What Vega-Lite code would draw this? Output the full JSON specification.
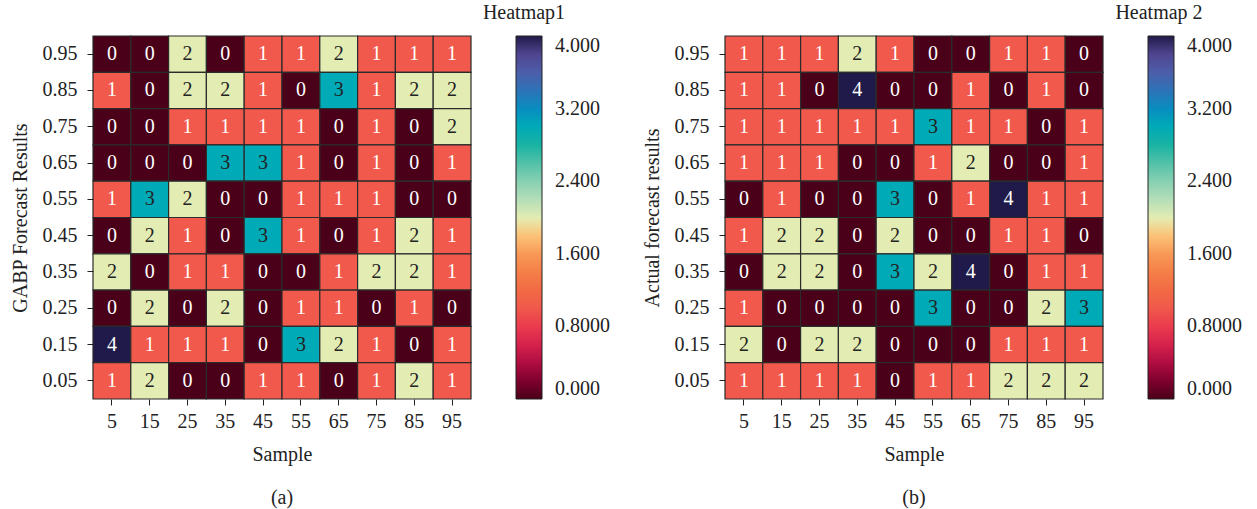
{
  "$schema": "https://vega.github.io/schema/vega-lite/v6.json",
  "padding": {"left": 10, "top": 3, "right": 5, "bottom": 5},
  "background": "white",
  "datasets": {
    "a": [
      {"s":5,"r":"0.95","v":0},{"s":15,"r":"0.95","v":0},{"s":25,"r":"0.95","v":2},{"s":35,"r":"0.95","v":0},{"s":45,"r":"0.95","v":1},{"s":55,"r":"0.95","v":1},{"s":65,"r":"0.95","v":2},{"s":75,"r":"0.95","v":1},{"s":85,"r":"0.95","v":1},{"s":95,"r":"0.95","v":1},
      {"s":5,"r":"0.85","v":1},{"s":15,"r":"0.85","v":0},{"s":25,"r":"0.85","v":2},{"s":35,"r":"0.85","v":2},{"s":45,"r":"0.85","v":1},{"s":55,"r":"0.85","v":0},{"s":65,"r":"0.85","v":3},{"s":75,"r":"0.85","v":1},{"s":85,"r":"0.85","v":2},{"s":95,"r":"0.85","v":2},
      {"s":5,"r":"0.75","v":0},{"s":15,"r":"0.75","v":0},{"s":25,"r":"0.75","v":1},{"s":35,"r":"0.75","v":1},{"s":45,"r":"0.75","v":1},{"s":55,"r":"0.75","v":1},{"s":65,"r":"0.75","v":0},{"s":75,"r":"0.75","v":1},{"s":85,"r":"0.75","v":0},{"s":95,"r":"0.75","v":2},
      {"s":5,"r":"0.65","v":0},{"s":15,"r":"0.65","v":0},{"s":25,"r":"0.65","v":0},{"s":35,"r":"0.65","v":3},{"s":45,"r":"0.65","v":3},{"s":55,"r":"0.65","v":1},{"s":65,"r":"0.65","v":0},{"s":75,"r":"0.65","v":1},{"s":85,"r":"0.65","v":0},{"s":95,"r":"0.65","v":1},
      {"s":5,"r":"0.55","v":1},{"s":15,"r":"0.55","v":3},{"s":25,"r":"0.55","v":2},{"s":35,"r":"0.55","v":0},{"s":45,"r":"0.55","v":0},{"s":55,"r":"0.55","v":1},{"s":65,"r":"0.55","v":1},{"s":75,"r":"0.55","v":1},{"s":85,"r":"0.55","v":0},{"s":95,"r":"0.55","v":0},
      {"s":5,"r":"0.45","v":0},{"s":15,"r":"0.45","v":2},{"s":25,"r":"0.45","v":1},{"s":35,"r":"0.45","v":0},{"s":45,"r":"0.45","v":3},{"s":55,"r":"0.45","v":1},{"s":65,"r":"0.45","v":0},{"s":75,"r":"0.45","v":1},{"s":85,"r":"0.45","v":2},{"s":95,"r":"0.45","v":1},
      {"s":5,"r":"0.35","v":2},{"s":15,"r":"0.35","v":0},{"s":25,"r":"0.35","v":1},{"s":35,"r":"0.35","v":1},{"s":45,"r":"0.35","v":0},{"s":55,"r":"0.35","v":0},{"s":65,"r":"0.35","v":1},{"s":75,"r":"0.35","v":2},{"s":85,"r":"0.35","v":2},{"s":95,"r":"0.35","v":1},
      {"s":5,"r":"0.25","v":0},{"s":15,"r":"0.25","v":2},{"s":25,"r":"0.25","v":0},{"s":35,"r":"0.25","v":2},{"s":45,"r":"0.25","v":0},{"s":55,"r":"0.25","v":1},{"s":65,"r":"0.25","v":1},{"s":75,"r":"0.25","v":0},{"s":85,"r":"0.25","v":1},{"s":95,"r":"0.25","v":0},
      {"s":5,"r":"0.15","v":4},{"s":15,"r":"0.15","v":1},{"s":25,"r":"0.15","v":1},{"s":35,"r":"0.15","v":1},{"s":45,"r":"0.15","v":0},{"s":55,"r":"0.15","v":3},{"s":65,"r":"0.15","v":2},{"s":75,"r":"0.15","v":1},{"s":85,"r":"0.15","v":0},{"s":95,"r":"0.15","v":1},
      {"s":5,"r":"0.05","v":1},{"s":15,"r":"0.05","v":2},{"s":25,"r":"0.05","v":0},{"s":35,"r":"0.05","v":0},{"s":45,"r":"0.05","v":1},{"s":55,"r":"0.05","v":1},{"s":65,"r":"0.05","v":0},{"s":75,"r":"0.05","v":1},{"s":85,"r":"0.05","v":2},{"s":95,"r":"0.05","v":1}
    ],
    "b": [
      {"s":5,"r":"0.95","v":1},{"s":15,"r":"0.95","v":1},{"s":25,"r":"0.95","v":1},{"s":35,"r":"0.95","v":2},{"s":45,"r":"0.95","v":1},{"s":55,"r":"0.95","v":0},{"s":65,"r":"0.95","v":0},{"s":75,"r":"0.95","v":1},{"s":85,"r":"0.95","v":1},{"s":95,"r":"0.95","v":0},
      {"s":5,"r":"0.85","v":1},{"s":15,"r":"0.85","v":1},{"s":25,"r":"0.85","v":0},{"s":35,"r":"0.85","v":4},{"s":45,"r":"0.85","v":0},{"s":55,"r":"0.85","v":0},{"s":65,"r":"0.85","v":1},{"s":75,"r":"0.85","v":0},{"s":85,"r":"0.85","v":1},{"s":95,"r":"0.85","v":0},
      {"s":5,"r":"0.75","v":1},{"s":15,"r":"0.75","v":1},{"s":25,"r":"0.75","v":1},{"s":35,"r":"0.75","v":1},{"s":45,"r":"0.75","v":1},{"s":55,"r":"0.75","v":3},{"s":65,"r":"0.75","v":1},{"s":75,"r":"0.75","v":1},{"s":85,"r":"0.75","v":0},{"s":95,"r":"0.75","v":1},
      {"s":5,"r":"0.65","v":1},{"s":15,"r":"0.65","v":1},{"s":25,"r":"0.65","v":1},{"s":35,"r":"0.65","v":0},{"s":45,"r":"0.65","v":0},{"s":55,"r":"0.65","v":1},{"s":65,"r":"0.65","v":2},{"s":75,"r":"0.65","v":0},{"s":85,"r":"0.65","v":0},{"s":95,"r":"0.65","v":1},
      {"s":5,"r":"0.55","v":0},{"s":15,"r":"0.55","v":1},{"s":25,"r":"0.55","v":0},{"s":35,"r":"0.55","v":0},{"s":45,"r":"0.55","v":3},{"s":55,"r":"0.55","v":0},{"s":65,"r":"0.55","v":1},{"s":75,"r":"0.55","v":4},{"s":85,"r":"0.55","v":1},{"s":95,"r":"0.55","v":1},
      {"s":5,"r":"0.45","v":1},{"s":15,"r":"0.45","v":2},{"s":25,"r":"0.45","v":2},{"s":35,"r":"0.45","v":0},{"s":45,"r":"0.45","v":2},{"s":55,"r":"0.45","v":0},{"s":65,"r":"0.45","v":0},{"s":75,"r":"0.45","v":1},{"s":85,"r":"0.45","v":1},{"s":95,"r":"0.45","v":0},
      {"s":5,"r":"0.35","v":0},{"s":15,"r":"0.35","v":2},{"s":25,"r":"0.35","v":2},{"s":35,"r":"0.35","v":0},{"s":45,"r":"0.35","v":3},{"s":55,"r":"0.35","v":2},{"s":65,"r":"0.35","v":4},{"s":75,"r":"0.35","v":0},{"s":85,"r":"0.35","v":1},{"s":95,"r":"0.35","v":1},
      {"s":5,"r":"0.25","v":1},{"s":15,"r":"0.25","v":0},{"s":25,"r":"0.25","v":0},{"s":35,"r":"0.25","v":0},{"s":45,"r":"0.25","v":0},{"s":55,"r":"0.25","v":3},{"s":65,"r":"0.25","v":0},{"s":75,"r":"0.25","v":0},{"s":85,"r":"0.25","v":2},{"s":95,"r":"0.25","v":3},
      {"s":5,"r":"0.15","v":2},{"s":15,"r":"0.15","v":0},{"s":25,"r":"0.15","v":2},{"s":35,"r":"0.15","v":2},{"s":45,"r":"0.15","v":0},{"s":55,"r":"0.15","v":0},{"s":65,"r":"0.15","v":0},{"s":75,"r":"0.15","v":1},{"s":85,"r":"0.15","v":1},{"s":95,"r":"0.15","v":1},
      {"s":5,"r":"0.05","v":1},{"s":15,"r":"0.05","v":1},{"s":25,"r":"0.05","v":1},{"s":35,"r":"0.05","v":1},{"s":45,"r":"0.05","v":0},{"s":55,"r":"0.05","v":1},{"s":65,"r":"0.05","v":1},{"s":75,"r":"0.05","v":2},{"s":85,"r":"0.05","v":2},{"s":95,"r":"0.05","v":2}
    ]
  },
  "hconcat": [
    {
      "data": {"name": "a"},
      "width": 378,
      "height": 363,
      "title": {"text": "(a)", "orient": "bottom", "anchor": "middle", "offset": 24},
      "encoding": {
        "x": {"field": "s", "type": "ordinal", "sort": "ascending", "title": "Sample"},
        "y": {"field": "r", "type": "ordinal", "sort": "descending", "title": "GABP Forecast Results"}
      },
      "layer": [
        {
          "mark": {"type": "rect", "stroke": "#2b2b2b", "strokeWidth": 1.2},
          "encoding": {
            "color": {
              "field": "v", "type": "quantitative",
              "scale": {"type": "linear", "interpolate": "rgb",
                "domain": [0, 0.25, 0.5, 0.75, 1, 1.25, 1.5, 1.75, 1.9, 2, 2.25, 2.5, 2.75, 3, 3.25, 3.5, 3.75, 3.9, 4],
                "range": ["#4a0019", "#8c0033", "#c8164a", "#e8334f", "#f0594b", "#f36e42", "#f68a4c", "#fbb067", "#feea9a", "#e3ecb3", "#a7dbb9", "#72c9ae", "#1fb59e", "#00aab7", "#0a86c2", "#4466af", "#5a50a0", "#392f6e", "#1f1a49"]},
              "legend": {
                "title": "Heatmap1", "orient": "none", "legendX": 390, "legendY": -33,
                "values": [0, 0.8, 1.6, 2.4, 3.2, 4],
                "labelExpr": "datum.value == 0.8 ? '0.8000' : format(datum.value, '.3f')",
                "labelOffset": 13, "labelBaseline": "middle",
                "titleAlign": "center", "titleAnchor": "start",
                "encode": {"title": {"update": {"dx": {"value": 8}}}}
              }
            }
          }
        },
        {
          "mark": {"type": "text", "fontSize": 20, "font": "Liberation Serif"},
          "encoding": {
            "text": {"field": "v", "type": "quantitative"},
            "color": {"condition": {"test": "datum.v == 2 || datum.v == 3", "value": "#222222"}, "value": "#ffffff"}
          }
        }
      ]
    },
    {
      "data": {"name": "b"},
      "width": 378,
      "height": 363,
      "title": {"text": "(b)", "orient": "bottom", "anchor": "middle", "offset": 24},
      "encoding": {
        "x": {"field": "s", "type": "ordinal", "sort": "ascending", "title": "Sample"},
        "y": {"field": "r", "type": "ordinal", "sort": "descending", "title": "Actual forecast results"}
      },
      "layer": [
        {
          "mark": {"type": "rect", "stroke": "#2b2b2b", "strokeWidth": 1.2},
          "encoding": {
            "color": {
              "field": "v", "type": "quantitative",
              "scale": {"type": "linear", "interpolate": "rgb",
                "domain": [0, 0.25, 0.5, 0.75, 1, 1.25, 1.5, 1.75, 1.9, 2, 2.25, 2.5, 2.75, 3, 3.25, 3.5, 3.75, 3.9, 4],
                "range": ["#4a0019", "#8c0033", "#c8164a", "#e8334f", "#f0594b", "#f36e42", "#f68a4c", "#fbb067", "#feea9a", "#e3ecb3", "#a7dbb9", "#72c9ae", "#1fb59e", "#00aab7", "#0a86c2", "#4466af", "#5a50a0", "#392f6e", "#1f1a49"]},
              "legend": {
                "title": "Heatmap 2", "orient": "none", "legendX": 390, "legendY": -33,
                "values": [0, 0.8, 1.6, 2.4, 3.2, 4],
                "labelExpr": "datum.value == 0.8 ? '0.8000' : format(datum.value, '.3f')",
                "labelOffset": 13, "labelBaseline": "middle",
                "titleAlign": "center", "titleAnchor": "start",
                "encode": {"title": {"update": {"dx": {"value": 11}}}}
              }
            }
          }
        },
        {
          "mark": {"type": "text", "fontSize": 20, "font": "Liberation Serif"},
          "encoding": {
            "text": {"field": "v", "type": "quantitative"},
            "color": {"condition": {"test": "datum.v == 2 || datum.v == 3", "value": "#222222"}, "value": "#ffffff"}
          }
        }
      ]
    }
  ],
  "spacing": 32,
  "resolve": {"scale": {"color": "independent"}},
  "config": {
    "font": "Liberation Serif",
    "view": {"stroke": null},
    "axis": {
      "labelFont": "Liberation Serif", "labelFontSize": 20, "labelColor": "#222222",
      "titleFont": "Liberation Serif", "titleFontSize": 20, "titleFontWeight": "normal", "titleColor": "#222222",
      "tickColor": "#222222", "tickSize": 6, "domain": false, "grid": false
    },
    "axisX": {"labelAngle": 0, "labelPadding": 6, "titlePadding": 13},
    "axisY": {"labelPadding": 10, "titlePadding": 12},
    "legend": {
      "gradientLength": 363, "gradientThickness": 26,
      "gradientStrokeColor": "#222222", "gradientStrokeWidth": 1,
      "labelFont": "Liberation Serif", "labelFontSize": 20, "labelColor": "#222222",
      "titleFont": "Liberation Serif", "titleFontSize": 20, "titleFontWeight": "normal", "titleColor": "#222222",
      "titlePadding": 13
    },
    "title": {"font": "Liberation Serif", "fontSize": 20, "fontWeight": "normal", "color": "#222222"}
  }
}
